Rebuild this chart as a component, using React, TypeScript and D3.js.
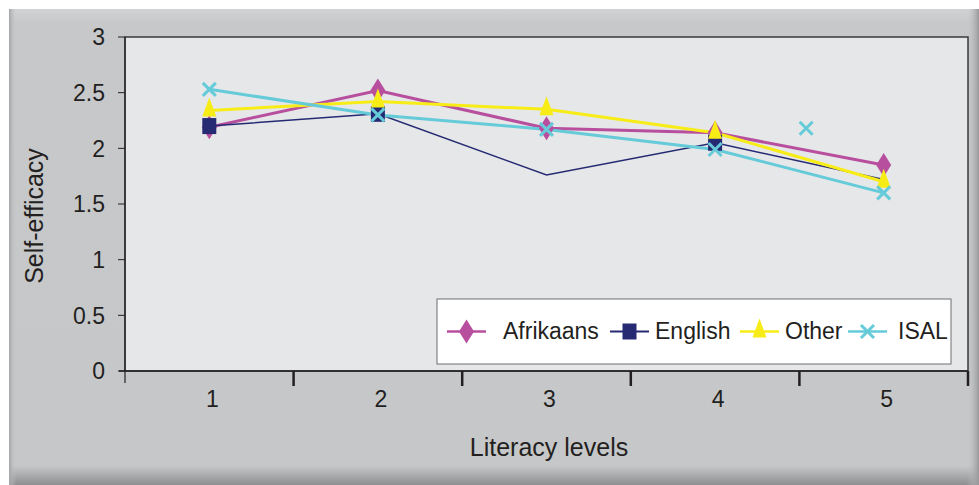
import React from 'react';
import * as d3 from 'd3';

const levels = [1, 2, 3, 4, 5];
const afrikaans = [2.19, 2.52, 2.18, 2.14, 1.85];
const english = [2.2, 2.31, 1.76, 2.05, 1.72];
const other = [2.34, 2.42, 2.35, 2.14, 1.7];
const isal = [2.53, 2.3, 2.17, 1.99, 1.6];
// English only shows markers at levels 1, 2 and 4 in the original
const englishMarked = [true, true, false, true, false];
// a stray ISAL marker sits between levels 4 and 5 in the original
const isalStray = { level: 4.54, value: 2.18 };
const yTicks = [0, 0.5, 1, 1.5, 2, 2.5, 3];

type Marker = 'diamond' | 'square' | 'triangle' | 'cross';

const series: { name: string; values: number[]; color: string; width: number; marker: Marker; marked?: boolean[] }[] = [
    { name: 'Afrikaans', values: afrikaans, color: '#b84f9e', width: 3, marker: 'diamond' },
    { name: 'English', values: english, color: '#252a72', width: 1.5, marker: 'square', marked: englishMarked },
    { name: 'Other', values: other, color: '#f7ec16', width: 3, marker: 'triangle' },
    { name: 'ISAL', values: isal, color: '#66cbd9', width: 3, marker: 'cross' },
];

const markerPath = (m: Marker) => {
    switch (m) {
        case 'diamond': return 'M0,-12L7.5,0L0,12L-7.5,0Z';
        case 'square': return 'M-7,-8H7V8H-7Z';
        case 'triangle': return 'M0,-13L7,6L-7,6Z';
        default: return 'M-6.5,-6.5L6.5,6.5M6.5,-6.5L-6.5,6.5';
    }
};

const MarkerShape: React.FC<{ m: Marker; color: string; x: number; y: number }> = ({ m, color, x, y }) => (
    m === 'cross'
        ? <path d={markerPath(m)} transform={`translate(${x},${y})`} stroke={color} strokeWidth={3} fill="none" />
        : <path d={markerPath(m)} transform={`translate(${x},${y})`} fill={color} />
);

const App: React.FC = () => {
    const W = 979, H = 485;
    const plot = { left: 125, top: 37, right: 968, bottom: 371 };
    const font = 'Arial, "Liberation Sans", Helvetica, sans-serif';
    const ink = '#231f20';

    const x = d3.scaleLinear().domain([0.5, 5.5]).range([plot.left, plot.right]);
    const y = d3.scaleLinear().domain([0, 3]).range([plot.bottom, plot.top]);
    const line = d3.line<number>().x((_, i) => x(levels[i])).y(d => y(d));
    const bounds = d3.range(0.5, 6, 1);

    const legend = { x: 437, y: 299, w: 514, h: 65 };
    const legendItems = [
        { lx: 447, tx: 503 },
        { lx: 610, tx: 655 },
        { lx: 740, tx: 785 },
        { lx: 848, tx: 898 },
    ];

    return (
        <svg width={W} height={H} style={{ position: 'absolute', left: 0, top: 0 }}>
            <defs>
                <linearGradient id="gv" x1="0" y1="0" x2="0" y2="1">
                    <stop offset="0" stopColor="#d2d3d5" />
                    <stop offset="0.03" stopColor="#c7c8ca" />
                    <stop offset="0.96" stopColor="#c6c7c9" />
                    <stop offset="1" stopColor="#8e8f91" />
                </linearGradient>
                <linearGradient id="gr" x1="0" y1="0" x2="1" y2="0">
                    <stop offset="0" stopColor="#c6c7c9" stopOpacity="0" />
                    <stop offset="1" stopColor="#97989a" />
                </linearGradient>
                <linearGradient id="gl" x1="0" y1="0" x2="1" y2="0">
                    <stop offset="0" stopColor="#a3a4a6" />
                    <stop offset="1" stopColor="#c6c7c9" stopOpacity="0" />
                </linearGradient>
            </defs>
            <rect x={0} y={0} width={W} height={H} fill="#ffffff" />
            <rect x={9} y={9} width={W - 9} height={H - 9} fill="url(#gv)" />
            <rect x={9} y={9} width={7} height={H - 9} fill="url(#gl)" />
            <rect x={967} y={9} width={12} height={H - 9} fill="url(#gr)" />

            <rect x={plot.left} y={plot.top} width={plot.right - plot.left} height={plot.bottom - plot.top}
                fill="#e6e7e9" stroke="#3a3a3c" strokeWidth={1.5} />

            {yTicks.map(t => (
                <g key={t}>
                    <line x1={118} x2={plot.left} y1={y(t)} y2={y(t)} stroke={ink} strokeWidth={1} />
                    <text x={105} y={y(t)} dy="0.36em" textAnchor="end" fontFamily={font} fontSize={23} fill={ink}>{t}</text>
                </g>
            ))}
            <line x1={plot.left} x2={plot.left} y1={plot.top} y2={plot.bottom + 12} stroke={ink} strokeWidth={1.2} />
            <line x1={119} x2={plot.right} y1={plot.bottom} y2={plot.bottom} stroke={ink} strokeWidth={1.5} />
            {bounds.slice(1).map(b => (
                <line key={b} x1={x(b)} x2={x(b)} y1={plot.bottom} y2={plot.bottom + 15} stroke={ink} strokeWidth={2.5} />
            ))}
            {levels.map(l => (
                <text key={l} x={x(l) + 3} y={plot.bottom + 36} textAnchor="middle" fontFamily={font} fontSize={23} fill={ink}>{l}</text>
            ))}

            <text x={549} y={456} textAnchor="middle" fontFamily={font} fontSize={25} fill={ink}>Literacy levels</text>
            <text transform={`translate(43,${(plot.top + plot.bottom) / 2 + 12}) rotate(-90)`} textAnchor="middle"
                fontFamily={font} fontSize={25} fill={ink}>Self-efficacy</text>

            {series.map(s => (
                <path key={s.name} d={line(s.values) ?? ''} fill="none" stroke={s.color} strokeWidth={s.width} />
            ))}
            {series.map(s => s.values.map((v, i) => (
                !s.marked || s.marked[i]
                    ? <MarkerShape key={s.name + i} m={s.marker} color={s.color} x={x(levels[i])} y={y(v)} />
                    : null
            )))}
            <MarkerShape m="cross" color="#66cbd9" x={x(isalStray.level)} y={y(isalStray.value)} />

            <rect x={legend.x} y={legend.y} width={legend.w} height={legend.h} fill="#ffffff" stroke="#6d6e70" strokeWidth={1} />
            {series.map((s, i) => {
                const cy = legend.y + legend.h / 2;
                const it = legendItems[i];
                return (
                    <g key={s.name}>
                        <line x1={it.lx} x2={it.lx + 39} y1={cy} y2={cy} stroke={s.color} strokeWidth={s.width === 3 ? 2.5 : 2} />
                        <MarkerShape m={s.marker} color={s.color} x={it.lx + 19.5} y={cy} />
                        <text x={it.tx} y={cy - 1} dy="0.36em" fontFamily={font} fontSize={23} fill={ink}>{s.name}</text>
                    </g>
                );
            })}
        </svg>
    );
};

export default App;
